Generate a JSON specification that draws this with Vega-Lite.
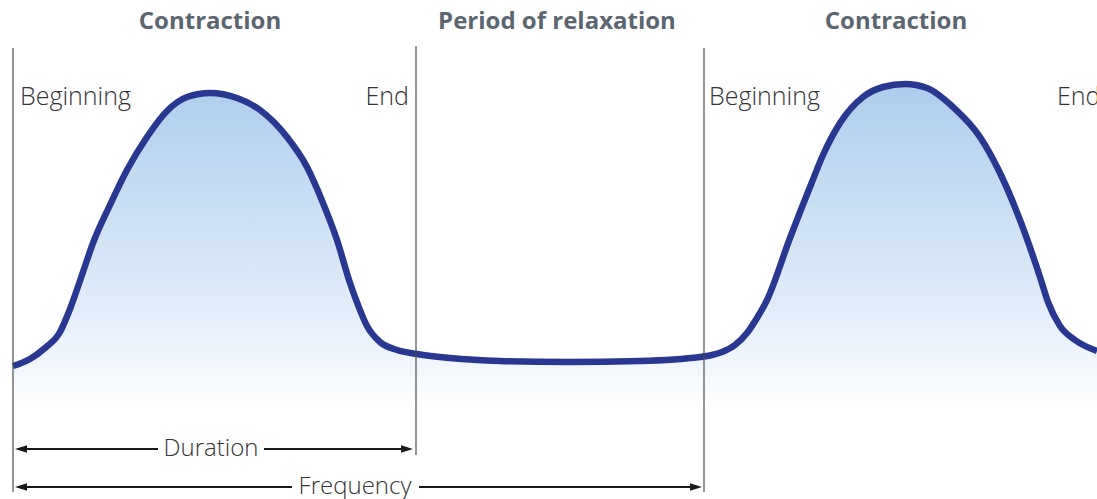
{
  "$schema": "https://vega.github.io/schema/vega-lite/v6.json",
  "width": 1097,
  "height": 499,
  "padding": 0,
  "autosize": {"type": "none"},
  "background": "white",
  "config": {"view": {"stroke": null}},
  "datasets": {
    "curve": [
      {"t": 13, "level": 133}, {"t": 30, "level": 140}, {"t": 45, "level": 151}, {"t": 60, "level": 167},
      {"t": 70, "level": 190}, {"t": 82, "level": 224}, {"t": 93, "level": 256}, {"t": 110, "level": 294},
      {"t": 127, "level": 329}, {"t": 147, "level": 362}, {"t": 167, "level": 388}, {"t": 187, "level": 402},
      {"t": 210, "level": 406}, {"t": 237, "level": 401}, {"t": 260, "level": 389}, {"t": 287, "level": 362},
      {"t": 307, "level": 332}, {"t": 323, "level": 296}, {"t": 337, "level": 259}, {"t": 350, "level": 216},
      {"t": 358, "level": 194}, {"t": 367, "level": 173}, {"t": 380, "level": 157}, {"t": 397, "level": 149},
      {"t": 417, "level": 145}, {"t": 450, "level": 141}, {"t": 500, "level": 138}, {"t": 567, "level": 137},
      {"t": 640, "level": 138}, {"t": 700, "level": 142}, {"t": 712, "level": 144}, {"t": 722, "level": 147},
      {"t": 735, "level": 154}, {"t": 747, "level": 166}, {"t": 757, "level": 181}, {"t": 767, "level": 199},
      {"t": 790, "level": 261}, {"t": 810, "level": 312}, {"t": 823, "level": 344}, {"t": 840, "level": 376},
      {"t": 863, "level": 402}, {"t": 883, "level": 412}, {"t": 905, "level": 415}, {"t": 927, "level": 411},
      {"t": 953, "level": 392}, {"t": 980, "level": 362}, {"t": 1000, "level": 326}, {"t": 1020, "level": 279},
      {"t": 1040, "level": 222}, {"t": 1048, "level": 197}, {"t": 1060, "level": 173}, {"t": 1075, "level": 159},
      {"t": 1097, "level": 148}
    ],
    "markers": [
      {"t": 13, "top": 451, "bottom": 7},
      {"t": 416, "top": 453, "bottom": 44},
      {"t": 704, "top": 451, "bottom": 7}
    ],
    "arrows": [
      {"t": 18, "t2": 158, "level": 50},
      {"t": 264, "t2": 408, "level": 50},
      {"t": 18, "t2": 292, "level": 12},
      {"t": 419, "t2": 697, "level": 12}
    ],
    "heads": [
      {"t": 21, "level": 50, "dir": "left"},
      {"t": 407, "level": 50, "dir": "right"},
      {"t": 21, "level": 12, "dir": "left"},
      {"t": 696, "level": 12, "dir": "right"}
    ],
    "labels": [
      {"t": 210, "level": 477, "text": "Contraction", "kind": "title"},
      {"t": 557, "level": 477, "text": "Period of relaxation", "kind": "title"},
      {"t": 896, "level": 477, "text": "Contraction", "kind": "title"},
      {"t": 20, "level": 402, "text": "Beginning", "kind": "left"},
      {"t": 709, "level": 402, "text": "Beginning", "kind": "left"},
      {"t": 1057, "level": 402, "text": "End", "kind": "left"},
      {"t": 409, "level": 402, "text": "End", "kind": "right"},
      {"t": 211, "level": 50, "text": "Duration", "kind": "arrow"},
      {"t": 355, "level": 12, "text": "Frequency", "kind": "arrow"}
    ]
  },
  "encoding": {
    "x": {"field": "t", "type": "quantitative", "scale": {"domain": [0, 1097], "nice": false, "zero": false}, "axis": null},
    "y": {"field": "level", "type": "quantitative", "scale": {"domain": [0, 499], "nice": false, "zero": false}, "axis": null}
  },
  "layer": [
    {
      "data": {"name": "curve"},
      "mark": {
        "type": "area",
        "interpolate": "monotone",
        "color": {
          "gradient": "linear", "x1": 0, "y1": 0, "x2": 0, "y2": 1,
          "stops": [
            {"offset": 0, "color": "#aecdeb"},
            {"offset": 0.75, "color": "#e6effa"},
            {"offset": 1, "color": "#fdfeff"}
          ]
        }
      },
      "encoding": {"y2": {"datum": 96}}
    },
    {
      "data": {"name": "curve"},
      "mark": {"type": "line", "interpolate": "monotone", "color": "#283891", "strokeWidth": 6.5, "strokeCap": "butt"},
      "encoding": {}
    },
    {
      "data": {"name": "markers"},
      "mark": {"type": "rule", "color": "#4d4d4d", "strokeWidth": 1.2},
      "encoding": {
        "y": {"field": "top", "type": "quantitative"},
        "y2": {"field": "bottom"}
      }
    },
    {
      "data": {"name": "arrows"},
      "mark": {"type": "rule", "color": "#1a1a1a", "strokeWidth": 2},
      "encoding": {"x2": {"field": "t2"}}
    },
    {
      "data": {"name": "heads"},
      "mark": {"type": "point", "filled": true, "opacity": 1, "color": "#1a1a1a", "size": 144, "strokeWidth": 0},
      "encoding": {
        "shape": {
          "field": "dir", "type": "nominal", "legend": null,
          "scale": {"domain": ["left", "right"], "range": ["M-1,0L1,-0.62L1,0.62Z", "M1,0L-1,-0.62L-1,0.62Z"]}
        }
      }
    },
    {
      "data": {"name": "labels"},
      "transform": [{"filter": "datum.kind === 'title'"}],
      "mark": {"type": "text", "font": "Open Sans", "fontWeight": 700, "fontSize": 24, "color": "#5b6670", "align": "center", "baseline": "middle"},
      "encoding": {"text": {"field": "text"}}
    },
    {
      "data": {"name": "labels"},
      "transform": [{"filter": "datum.kind === 'left'"}],
      "mark": {"type": "text", "font": "Open Sans", "fontWeight": 300, "fontSize": 25, "color": "#333333", "align": "left", "baseline": "middle"},
      "encoding": {"text": {"field": "text"}}
    },
    {
      "data": {"name": "labels"},
      "transform": [{"filter": "datum.kind === 'right'"}],
      "mark": {"type": "text", "font": "Open Sans", "fontWeight": 300, "fontSize": 25, "color": "#333333", "align": "right", "baseline": "middle"},
      "encoding": {"text": {"field": "text"}}
    },
    {
      "data": {"name": "labels"},
      "transform": [{"filter": "datum.kind === 'arrow'"}],
      "mark": {"type": "text", "font": "Open Sans", "fontWeight": 300, "fontSize": 24, "color": "#333333", "align": "center", "baseline": "middle"},
      "encoding": {"text": {"field": "text"}}
    }
  ]
}
